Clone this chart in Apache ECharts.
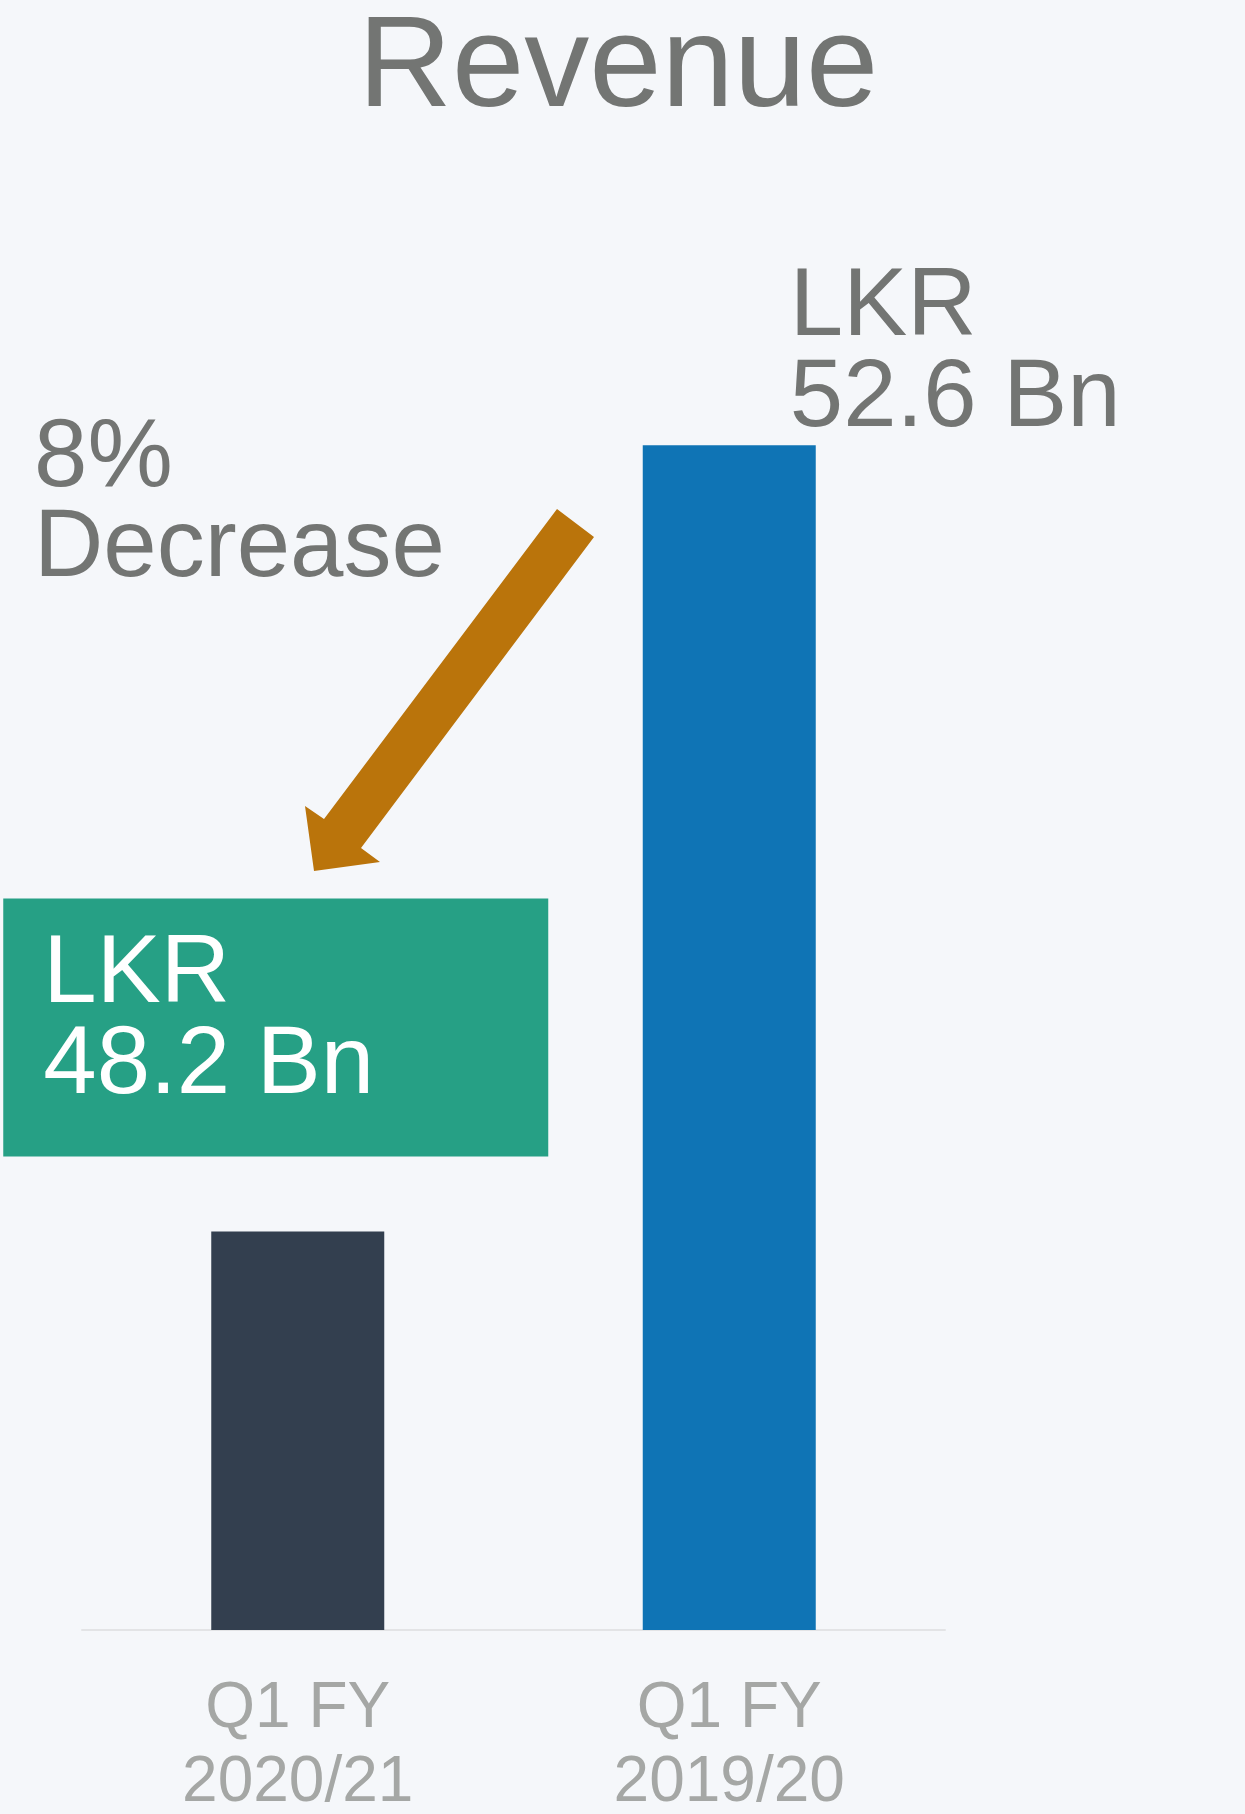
<!DOCTYPE html>
<html>
<head>
<meta charset="utf-8">
<script src="https://cdn.jsdelivr.net/npm/echarts@6/dist/echarts.min.js"></script>
<style>
  html, body { margin: 0; padding: 0; background: #f5f7fa; }
  #chart { width: 1245px; height: 1814px; }
</style>
</head>
<body>
<div id="chart"></div>
<script>
// data
var categories = ['Q1 FY\n2020/21', 'Q1 FY\n2019/20'];
var revenue = [48.2, 52.6];
var barColors = ['#333f4f', '#0f74b5'];
var changeText = '8%\nDecrease';

var FONT = '"Liberation Sans", Arial, sans-serif';
var GRAY = '#737573';

var myChart = echarts.init(document.getElementById('chart'));

var option = {
  backgroundColor: '#f5f7fa',
  animation: false,
  title: {
    text: 'Revenue',
    left: 358,
    top: 5,
    padding: 0,
    textStyle: { fontFamily: FONT, fontSize: 130, lineHeight: 130, fontWeight: 'normal', color: GRAY }
  },
  grid: { left: 82, right: 300, top: 195, bottom: 184, outerBoundsMode: 'none' },
  xAxis: {
    type: 'category',
    data: categories,
    axisLine: { lineStyle: { color: '#e3e4e6', width: 2 } },
    axisTick: { show: false },
    axisLabel: {
      color: '#a5a7a5',
      fontFamily: FONT,
      fontSize: 64,
      lineHeight: 74,
      margin: 42
    }
  },
  yAxis: {
    type: 'value',
    min: 45.97,
    max: 54,
    show: false,
    splitLine: { show: false }
  },
  series: [{
    type: 'bar',
    barWidth: 173,
    data: [
      {
        value: revenue[0],
        itemStyle: { color: barColors[0] },
        label: {
          show: true,
          position: [-208, -333],
          align: 'left',
          verticalAlign: 'top',
          formatter: function (p) { return 'LKR\n' + p.value + ' Bn'; },
          color: '#ffffff',
          fontFamily: FONT,
          fontSize: 96,
          lineHeight: 91,
          backgroundColor: '#26a085',
          width: 505,
          padding: [32, 0, 44, 40]
        }
      },
      {
        value: revenue[1],
        itemStyle: { color: barColors[1] },
        label: {
          show: true,
          position: [147, -182],
          align: 'left',
          verticalAlign: 'top',
          formatter: function (p) { return 'LKR\n' + p.value + ' Bn'; },
          color: GRAY,
          fontFamily: FONT,
          fontSize: 96,
          lineHeight: 91
        }
      }
    ]
  }],
  graphic: [
    {
      type: 'text',
      left: 34,
      top: 412,
      style: {
        text: changeText,
        fill: GRAY,
        font: '96px ' + FONT,
        lineHeight: 90
      }
    },
    {
      type: 'polygon',
      shape: {
        points: [[557, 509], [594, 537], [361, 848], [380, 862], [314, 871], [305, 806], [324, 819]]
      },
      style: { fill: '#ba740b' }
    }
  ]
};

myChart.setOption(option);
</script>
</body>
</html>
